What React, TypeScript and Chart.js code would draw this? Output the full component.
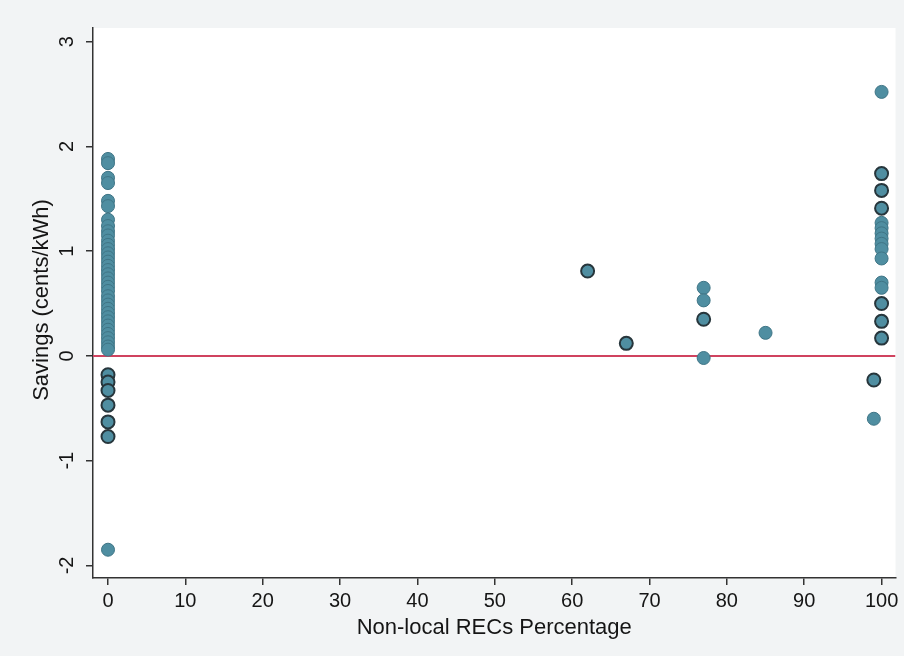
import React, { useEffect, useRef } from "react";
import { Chart, registerables } from "chart.js";

Chart.register(...registerables);

// Series with light outline
const pctLight = [
  0, 0, 0, 0, 0, 0, 0,
  0, 0, 0, 0, 0, 0, 0, 0, 0, 0, 0, 0, 0, 0, 0, 0, 0, 0, 0, 0, 0, 0, 0, 0, 0, 0, 0, 0, 0, 0,
  0,
  77, 77, 77, 85, 99,
  100, 100, 100, 100, 100, 100, 100, 100, 100, 100,
];
const savLight = [
  1.88, 1.84, 1.70, 1.65, 1.48, 1.43, 1.30,
  1.24, 1.19, 1.15, 1.10, 1.06, 1.02, 0.98, 0.94, 0.90, 0.86, 0.82, 0.78, 0.74, 0.70, 0.66,
  0.62, 0.57, 0.53, 0.49, 0.45, 0.41, 0.37, 0.33, 0.29, 0.25, 0.21, 0.17, 0.13, 0.09, 0.06,
  -1.85,
  0.65, 0.53, -0.02, 0.22, -0.60,
  2.52, 1.27, 1.22, 1.17, 1.12, 1.07, 1.02, 0.93, 0.70, 0.65,
];

// Series with dark outline
const pctDark = [0, 0, 0, 0, 0, 0, 62, 67, 77, 99, 100, 100, 100, 100, 100, 100];
const savDark = [-0.18, -0.25, -0.33, -0.47, -0.63, -0.77, 0.81, 0.12, 0.35, -0.23, 1.74, 1.58, 1.41, 0.50, 0.33, 0.17];

const xTicks = [0, 10, 20, 30, 40, 50, 60, 70, 80, 90, 100];
const yTicks = [-2, -1, 0, 1, 2, 3];
const xRange = [-1.94, 101.8];
const yRange = [-2.12, 3.13];
const zeroLineX = [-1.94, 101.8];
const zeroLineY = [0, 0];

const xTitle = "Non-local RECs Percentage";
const yTitle = "Savings (cents/kWh)";

const FONT = "'Liberation Sans', Arial, sans-serif";

export default function App() {
  const ref = useRef<HTMLCanvasElement | null>(null);

  useEffect(() => {
    if (!ref.current) return;

    const bgPlugin = {
      id: "bg",
      beforeDraw(chart: any) {
        const { ctx, chartArea } = chart;
        ctx.save();
        ctx.fillStyle = "#f2f4f5";
        ctx.fillRect(0, 0, chart.width, chart.height);
        ctx.fillStyle = "#ffffff";
        ctx.fillRect(chartArea.left, chartArea.top, chartArea.right - chartArea.left, chartArea.bottom - chartArea.top);
        ctx.restore();
      },
      afterDraw(chart: any) {
        const { ctx, chartArea } = chart;
        const ys = chart.scales.y;
        ctx.save();
        ctx.fillStyle = "#151515";
        ctx.font = `20px ${FONT}`;
        ctx.textAlign = "center";
        ctx.textBaseline = "middle";
        for (const v of yTicks) {
          const py = ys.getPixelForValue(v);
          ctx.save();
          ctx.translate(67, py);
          ctx.rotate(-Math.PI / 2);
          ctx.fillText(String(v), 0, 0);
          ctx.restore();
        }
        ctx.font = `22px ${FONT}`;
        ctx.save();
        ctx.translate(42, 300);
        ctx.rotate(-Math.PI / 2);
        ctx.fillText(yTitle, 0, 0);
        ctx.restore();
        ctx.fillText(xTitle, (chartArea.left + chartArea.right) / 2, 628);
        ctx.restore();
      },
    };

    const chart = new Chart(ref.current, {
      type: "scatter",
      data: {
        datasets: [
          {
            label: "light",
            data: pctLight.map((x, i) => ({ x, y: savLight[i] })),
            backgroundColor: "#4f8ea1",
            borderColor: "#3f7586",
            borderWidth: 1,
            pointRadius: 6.5,
            order: 1,
          },
          {
            label: "dark",
            data: pctDark.map((x, i) => ({ x, y: savDark[i] })),
            backgroundColor: "#4f8ea1",
            borderColor: "#27363c",
            borderWidth: 2,
            pointRadius: 6.5,
            order: 0,
          },
          {
            type: "line",
            label: "zero",
            data: zeroLineX.map((x, i) => ({ x, y: zeroLineY[i] })),
            borderColor: "#d0435f",
            borderWidth: 2,
            pointRadius: 0,
            showLine: true,
            order: 5,
          } as any,
        ],
      },
      plugins: [bgPlugin],
      options: {
        animation: false,
        responsive: false,
        events: [],
        layout: { padding: { top: 28, right: 8, left: 0, bottom: 0 } },
        plugins: { legend: { display: false }, tooltip: { enabled: false } },
        scales: {
          x: {
            type: "linear",
            min: xRange[0],
            max: xRange[1],
            afterBuildTicks(scale: any) {
              scale.ticks = xTicks.map((v) => ({ value: v }));
            },
            afterFit(scale: any) {
              scale.height = 78;
            },
            grid: { display: true, drawOnChartArea: false, drawTicks: true, tickLength: 7, color: "#333", lineWidth: 1.5 },
            border: { display: true, color: "#333", width: 1.5 },
            ticks: {
              color: "#151515",
              font: { family: FONT, size: 20 },
              padding: 4,
              maxRotation: 0,
              autoSkip: false,
              callback: (v: any) => String(v),
            },
          },
          y: {
            type: "linear",
            min: yRange[0],
            max: yRange[1],
            afterBuildTicks(scale: any) {
              scale.ticks = yTicks.map((v) => ({ value: v }));
            },
            afterFit(scale: any) {
              scale.width = 93;
            },
            grid: { display: true, drawOnChartArea: false, drawTicks: true, tickLength: 7, color: "#333", lineWidth: 1.5 },
            border: { display: true, color: "#333", width: 1.5 },
            ticks: { display: false },
          },
        },
      },
    });
    return () => chart.destroy();
  }, []);

  return (
    <div style={{ position: "absolute", left: 0, top: 0, width: 904, height: 656 }}>
      <canvas ref={ref} width={904} height={656} />
    </div>
  );
}
